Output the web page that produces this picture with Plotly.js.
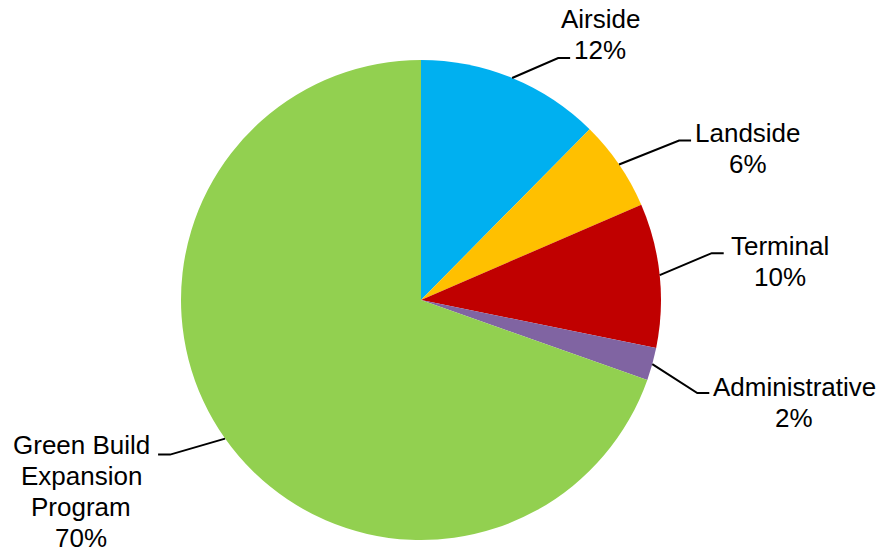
<!DOCTYPE html>
<html>
<head>
<meta charset="utf-8">
<script src="https://cdn.plot.ly/plotly-3.0.1.min.js"></script>
<style>
  html, body { margin: 0; padding: 0; background: #fff; }
  #chart { width: 883px; height: 552px; }
</style>
</head>
<body>
<div id="chart"></div>
<script>
// ---- data ----
const categories = ['Airside', 'Landside', 'Terminal', 'Administrative', 'Green Build Expansion Program'];
const shares = [12.4, 6.1, 9.7, 2.2, 69.6];
const labelLines = [['Airside'], ['Landside'], ['Terminal'], ['Administrative'], ['Green Build', 'Expansion', 'Program']];
const colors = ['#00B0F0', '#FFC000', '#C00000', '#8064A2', '#92D050'];

// ---- layout constants (pixels) ----
const W = 883, H = 552;
const CX = 421, CY = 300, R = 240;
const LINE_STEP = 31;      // vertical distance between label lines
const TEXT_NUDGE = 2.5;    // optical correction for middle anchoring
// leader: elbow offset from slice edge, horizontal tail length, label centre offset from elbow
const leaders = [
  { ex: 46, ey: -20, h: 12, tx: 42, ty: -26 },
  { ex: 60, ey: -24, h: 12, tx: 69, ty: 6 },
  { ex: 52, ey: -22, h: 12, tx: 68, ty: 6 },
  { ex: 45, ey: 29, h: 12, tx: 97, ty: 6.5 },
  { ex: -55, ey: 16, h: -12, tx: -89, ty: 34 }
];

const px = x => x / W;
const py = y => 1 - y / H;

const total = shares.reduce((a, b) => a + b, 0);
let cum = 0;
const shapes = [];
const annotations = [];
shares.forEach((v, i) => {
  const mid = (cum + v / 2) / total * 2 * Math.PI;
  cum += v;
  const sx = CX + R * Math.sin(mid);
  const sy = CY - R * Math.cos(mid);
  const L = leaders[i];
  const exx = sx + L.ex, eyy = sy + L.ey;
  const hx = exx + L.h;
  shapes.push({
    type: 'path', xref: 'paper', yref: 'paper',
    path: `M ${px(sx)},${py(sy)} L ${px(exx)},${py(eyy)} L ${px(hx)},${py(eyy)}`,
    line: { color: '#000000', width: 2 }
  });
  const pct = Math.round(v / total * 100) + '%';
  const lines = labelLines[i].concat([pct]);
  const cxT = exx + L.tx, cyT = eyy + L.ty + TEXT_NUDGE;
  const n = lines.length;
  lines.forEach((t, j) => {
    annotations.push({
      xref: 'paper', yref: 'paper',
      x: px(cxT), y: py(cyT + (j - (n - 1) / 2) * LINE_STEP),
      xanchor: 'center', yanchor: 'middle', align: 'center',
      text: t,
      showarrow: false,
      borderpad: 0,
      font: { family: 'Liberation Sans, Arial, sans-serif', size: 26, color: '#000000' }
    });
  });
});

const trace = {
  type: 'pie',
  labels: categories,
  values: shares,
  sort: false,
  direction: 'clockwise',
  rotation: 0,
  textinfo: 'none',
  hoverinfo: 'label+percent',
  marker: { colors: colors, line: { width: 0 } },
  domain: { x: [px(CX - R), px(CX + R)], y: [py(CY + R), py(CY - R)] },
  showlegend: false
};

const layout = {
  width: W, height: H,
  margin: { l: 0, r: 0, t: 0, b: 0 },
  paper_bgcolor: '#ffffff',
  showlegend: false,
  shapes: shapes,
  annotations: annotations
};

Plotly.newPlot('chart', [trace], layout, { displayModeBar: false, staticPlot: true });
</script>
</body>
</html>
